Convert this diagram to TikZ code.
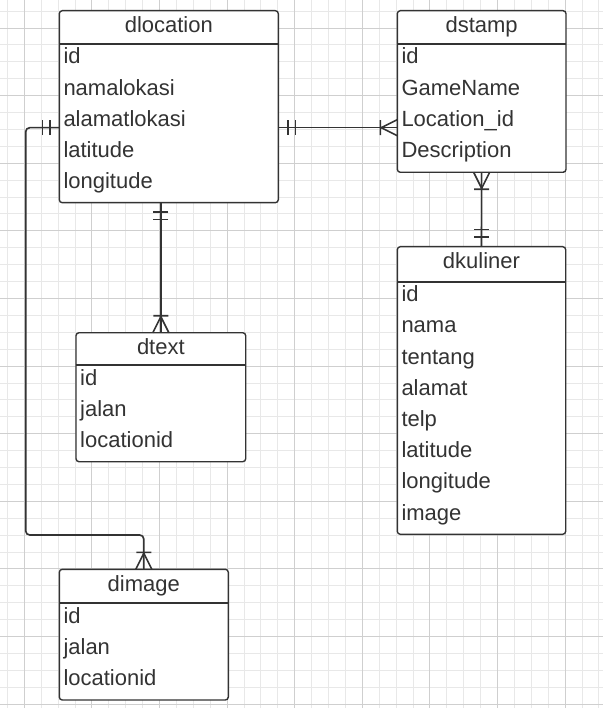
\documentclass[tikz,border=0pt]{standalone}
\usepackage{fontspec}
\setmainfont{Liberation Sans}
\usetikzlibrary{calc}

\definecolor{ink}{HTML}{333333}
\definecolor{gridminor}{HTML}{E8E8E8}
\definecolor{gridmajor}{HTML}{CFCFCF}

\tikzset{
  entbox/.style={draw=ink, fill=white, line width=1.4pt, rounded corners=3pt,
                 inner sep=0pt, outer sep=0pt},
  headline/.style={draw=ink, line width=1.8pt},
  titletext/.style={inner sep=0pt, text=ink, font=\fontsize{22}{26}\selectfont},
  rowtext/.style={inner sep=0pt, text=ink, font=\fontsize{22}{26}\selectfont},
  conn/.style={draw=ink, line width=1.6pt},
  gridthin/.style={draw=gridminor, line width=0.8pt},
  gridthick/.style={draw=gridmajor, line width=0.8pt},
}

% entity table: name, title, x, y (top left), width, height, header height, rows
\newcommand\entity[8]{%
  \node[entbox, minimum width=#5pt, minimum height=#6pt, anchor=north west] (#1) at (#3,#4) {};
  \draw[headline] ([yshift=-#7pt]#1.north west) -- ([yshift=-#7pt]#1.north east);
  \node[titletext, anchor=base] (#1-title) at ([yshift=-22pt]#1.north) {#2};
  \foreach \r [count=\i] in {#8} {
    \pgfmathsetmacro\yy{#7+20+31.2*(\i-1)}
    \node[rowtext, anchor=base west] (#1-\i) at ([xshift=4pt, yshift=-\yy pt]#1.north west) {\r};
  }
}

% "one and only one" end: two bars, direction away from the entity given by angle
\newcommand\markOne[2]{%
  \begin{scope}[shift={(#1)}, rotate=#2]
    \draw[conn] (9.5,-7.5) -- (9.5,7.5) (17,-7.5) -- (17,7.5);
  \end{scope}}
% "one or many" end: bar plus crow's foot
\newcommand\markMany[2]{%
  \begin{scope}[shift={(#1)}, rotate=#2]
    \draw[conn] (17,-7.5) -- (17,7.5) (0,-8) -- (16,0) -- (0,8);
  \end{scope}}

\begin{document}
\begin{tikzpicture}[x=1pt, y=-1pt]
  \useasboundingbox (0,0) rectangle (603,708);
  \fill[white] (0,0) rectangle (603,708);

  % background grid
  \foreach \k in {0,...,35} {
    \pgfmathsetmacro\gx{7.3+16.9*\k}
    \draw[gridthin] (\gx,0) -- (\gx,708);
  }
  \foreach \k in {0,...,41} {
    \pgfmathsetmacro\gy{11.1+16.9*\k}
    \draw[gridthin] (0,\gy) -- (603,\gy);
  }
  \foreach \k in {1,5,...,33} {
    \pgfmathsetmacro\gx{7.3+16.9*\k}
    \draw[gridthick] (\gx,0) -- (\gx,708);
  }
  \foreach \k in {1,5,...,41} {
    \pgfmathsetmacro\gy{11.1+16.9*\k}
    \draw[gridthick] (0,\gy) -- (603,\gy);
  }

  % entities
  \entity{loc}{dlocation}{59.3}{10.7}{219}{192}{33.3}{id,namalokasi,alamatlokasi,latitude,longitude}
  \entity{stamp}{dstamp}{397.3}{10.7}{168.7}{161.6}{33.3}{id,GameName,Location\_id,Description}
  \entity{kul}{dkuliner}{397.3}{246.7}{168.4}{287.6}{35}{id,nama,tentang,alamat,telp,latitude,longitude,image}
  \entity{txt}{dtext}{76}{332.7}{169.7}{129}{32.3}{id,jalan,locationid}
  \entity{img}{dimage}{59.3}{569.3}{169}{130.7}{34}{id,jalan,locationid}

  % connector end points
  \coordinate (e1) at ([yshift=-117pt]loc.north west);
  \coordinate (e2) at ([yshift=-117pt]loc.north east);
  \coordinate (e3) at ([yshift=-117pt]stamp.north west);
  \coordinate (e4) at (txt.north |- loc.south);
  \coordinate (bend1) at (25.7,127.7);
  \coordinate (bend2) at (25.7,535);

  % relationships
  \draw[conn, rounded corners=4pt] (e1) -- (bend1) -- (bend2) -- (bend2 -| img.north) -- (img.north);
  \draw[conn] (e2) -- (e3);
  \draw[conn] (stamp.south) -- (kul.north);
  \draw[conn] (e4) -- (txt.north);

  \markOne{e1}{180}
  \markMany{img.north}{90}
  \markOne{e2}{0}
  \markMany{e3}{180}
  \markMany{stamp.south}{-90}
  \markOne{kul.north}{90}
  \markOne{e4}{-90}
  \markMany{txt.north}{90}
\end{tikzpicture}
\end{document}
